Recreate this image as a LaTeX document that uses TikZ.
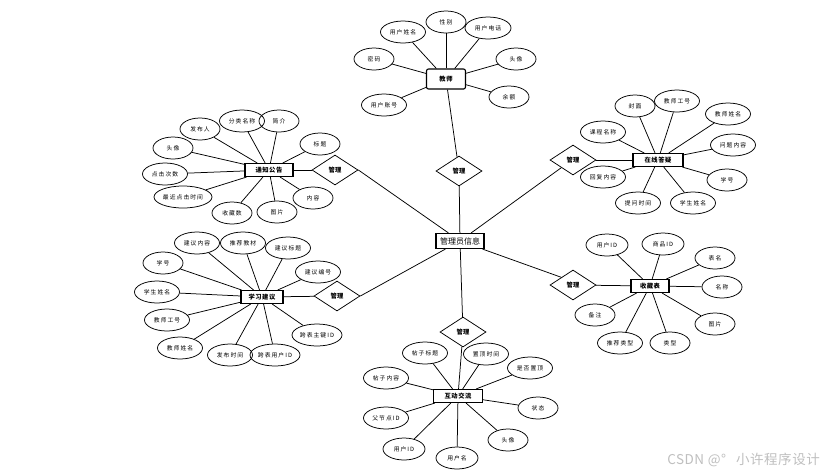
\documentclass[tikz,border=0pt]{standalone}
\usepackage{fontspec}
\setmainfont{Noto Sans CJK SC}
\newfontfamily\attrfont[LetterSpace=18]{Noto Sans CJK SC}
\newfontfamily\entfont[LetterSpace=8]{Noto Sans CJK SC}
\newfontfamily\wmfont[LetterSpace=4]{Noto Sans CJK SC}
\usetikzlibrary{shapes.geometric}
\begin{document}
\begin{tikzpicture}[x=1pt,y=-1pt,
  attr/.style={draw,ellipse,minimum width=42pt,minimum height=22pt,inner sep=0pt,
    line width=0.75pt,font=\attrfont\fontsize{5.8}{6}\selectfont},
  wide/.style={minimum width=#1},
  ent/.style={draw,rectangle,line width=1.1pt,minimum height=13pt,inner sep=1pt,
    font=\entfont\bfseries\fontsize{6.3}{7}\selectfont},
  rel/.style={draw,diamond,aspect=1.5,minimum width=46pt,minimum height=30pt,inner sep=0pt,
    line width=0.75pt,font=\bfseries\fontsize{6.3}{7}\selectfont},
  ln/.style={line width=0.75pt}]
\useasboundingbox (0,0) rectangle (830,475);
\fill[white] (0,0) rectangle (830,475);

% center
\node[ent,minimum width=48pt,minimum height=15pt,font=\fontsize{8}{9}\selectfont] (M) at (460,241) {管理员信息};

% ---------- 教师 ----------
\node[ent,rounded corners=2pt,minimum width=39pt,minimum height=20pt] (T) at (446,79) {教师};
\node[rel] (dT) at (459,171) {管理};
\node[attr,wide=45pt] (t1) at (403,32) {用户姓名};
\node[attr,wide=40pt] (t2) at (446,22) {性别};
\node[attr,wide=46pt] (t3) at (488,28) {用户电话};
\node[attr,wide=40pt] (t4) at (374,59) {密码};
\node[attr,wide=40pt] (t5) at (516,59) {头像};
\node[attr,wide=40pt] (t6) at (509,97) {余额};
\node[attr,wide=45pt] (t7) at (384,105) {用户账号};
\foreach \a in {t1,t2,t3,t4,t5,t6,t7} \draw[ln] (T) -- (\a);
\draw[ln] (T) -- (dT); \draw[ln] (dT) -- (M);

% ---------- 在线答疑 ----------
\node[ent,minimum width=50pt] (Q) at (658,160) {在线答疑};
\node[rel] (dQ) at (573,160) {管理};
\node[attr,wide=40pt] (q1) at (635,106) {封面};
\node[attr,wide=45pt] (q2) at (677,101) {教师工号};
\node[attr,wide=45pt] (q3) at (728,114) {教师姓名};
\node[attr,wide=45pt] (q4) at (603,132) {课程名称};
\node[attr,wide=45pt] (q5) at (733,145) {问题内容};
\node[attr,wide=40pt] (q6) at (727,180) {学号};
\node[attr,wide=45pt] (q7) at (603,177) {回复内容};
\node[attr,wide=45pt] (q8) at (638,203) {提问时间};
\node[attr,wide=45pt] (q9) at (693,203) {学生姓名};
\foreach \a in {q1,q2,q3,q4,q5,q6,q7,q8,q9} \draw[ln] (Q) -- (\a);
\draw[ln] (dQ) -- (Q); \draw[ln] (dQ.south west) -- (M);

% ---------- 通知公告 ----------
\node[ent,minimum width=48pt] (N) at (269,170) {通知公告};
\node[rel] (dN) at (335,170) {管理};
\node[attr,wide=40pt] (n1) at (200,129) {发布人};
\node[attr,wide=45pt] (n2) at (242,121) {分类名称};
\node[attr,wide=40pt] (n3) at (279,121) {简介};
\node[attr,wide=40pt] (n4) at (320,144) {标题};
\node[attr,wide=40pt] (n5) at (173,148) {头像};
\node[attr,wide=45pt] (n6) at (165,174) {点击次数};
\node[attr,wide=58pt] (n7) at (183,197) {最近点击时间};
\node[attr,wide=40pt] (n8) at (232,213) {收藏数};
\node[attr,wide=40pt] (n9) at (277,212) {图片};
\node[attr,wide=40pt] (n10) at (313,198) {内容};
\foreach \a in {n1,n2,n3,n4,n5,n6,n7,n8,n9,n10} \draw[ln] (N) -- (\a);
\draw[ln] (N) -- (dN); \draw[ln] (dN.east) -- (M);

% ---------- 学习建议 ----------
\node[ent,minimum width=42pt] (S) at (262,297) {学习建议};
\node[rel] (dS) at (337,296) {管理};
\node[attr,wide=45pt] (s1) at (197,243) {建议内容};
\node[attr,wide=45pt] (s2) at (243,243) {推荐教材};
\node[attr,wide=45pt] (s3) at (288,248) {建议标题};
\node[attr,wide=40pt] (s4) at (163,263) {学号};
\node[attr,wide=45pt] (s5) at (318,272) {建议编号};
\node[attr,wide=45pt] (s6) at (157,292) {学生姓名};
\node[attr,wide=45pt] (s7) at (167,320) {教师工号};
\node[attr,wide=45pt] (s8) at (180,348) {教师姓名};
\node[attr,wide=50pt] (s9) at (317,335) {跨表主键ID};
\node[attr,wide=45pt] (s10) at (230,355) {发布时间};
\node[attr,wide=50pt] (s11) at (275,355) {跨表用户ID};
\foreach \a in {s1,s2,s3,s4,s5,s6,s7,s8,s9,s11,s10} \draw[ln] (S) -- (\a);
\draw[ln] (S) -- (dS); \draw[ln] (dS.east) -- (M);

% ---------- 收藏表 ----------
\node[ent,minimum width=38pt] (C) at (650,286) {收藏表};
\node[rel] (dC) at (573,285) {管理};
\node[attr,wide=42pt] (c1) at (607,245) {用户ID};
\node[attr,wide=42pt] (c2) at (663,244) {商品ID};
\node[attr,wide=40pt] (c3) at (715,258) {表名};
\node[attr,wide=40pt] (c4) at (722,287) {名称};
\node[attr,wide=40pt] (c5) at (715,324) {图片};
\node[attr,wide=40pt] (c6) at (595,315) {备注};
\node[attr,wide=45pt] (c7) at (620,343) {推荐类型};
\node[attr,wide=40pt] (c8) at (670,343) {类型};
\foreach \a in {c1,c2,c3,c4,c5,c6,c7,c8} \draw[ln] (C) -- (\a);
\draw[ln] (dC) -- (C); \draw[ln] (dC.north west) -- (M);

% ---------- 互动交流 ----------
\node[ent,minimum width=49pt] (H) at (458,396) {互动交流};
\node[rel] (dH) at (463,332) {管理};
\node[attr,wide=45pt] (h1) at (425,353) {帖子标题};
\node[attr,wide=45pt] (h2) at (486,354) {置顶时间};
\node[attr,wide=45pt] (h3) at (530,368) {是否置顶};
\node[attr,wide=45pt] (h4) at (386,378) {帖子内容};
\node[attr,wide=40pt] (h5) at (538,408) {状态};
\node[attr,wide=45pt] (h6) at (386,418) {父节点ID};
\node[attr,wide=40pt] (h7) at (508,440) {头像};
\node[attr,wide=42pt] (h8) at (404,449) {用户ID};
\node[attr,wide=42pt] (h9) at (457,458) {用户名};
\foreach \a in {h1,h2,h3,h4,h5,h6,h7,h8,h9} \draw[ln] (H) -- (\a);
\draw[ln] (dH) -- (H); \draw[ln] (dH) -- (M);

% watermark
\node[anchor=east,text=black!25,font=\wmfont\fontsize{13.5}{14}\selectfont,inner sep=0pt] (wm) at (820,460) {CSDN @°\hspace{10pt}小许程序设计};
\end{tikzpicture}
\end{document}
